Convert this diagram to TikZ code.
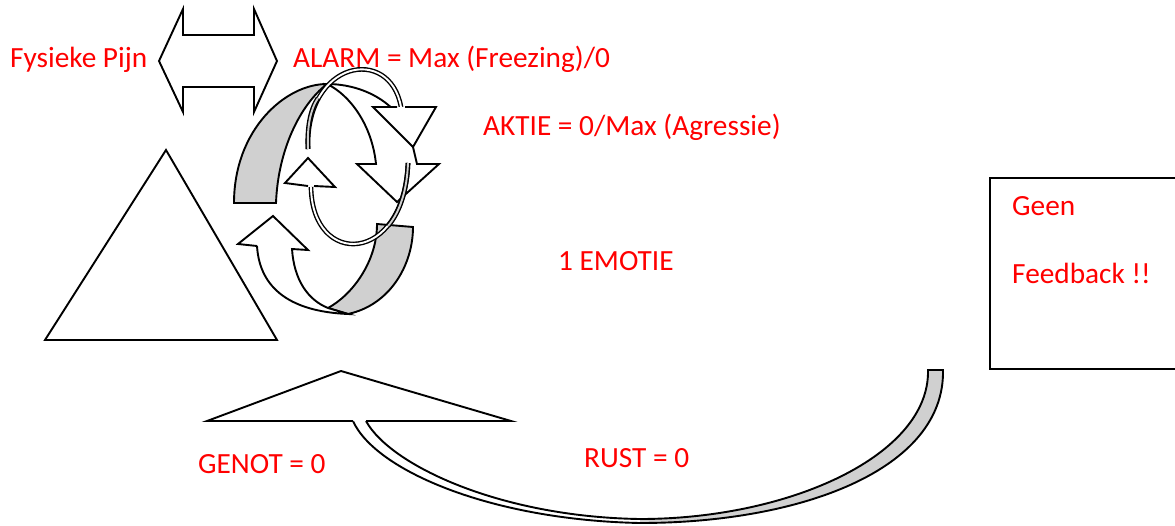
\documentclass[tikz,border=0pt]{standalone}
\usepackage{fontspec}
\setmainfont{Carlito}
\usepackage{tikz}
\definecolor{bandgray}{RGB}{208,208,208}

\begin{document}
\begin{tikzpicture}[x=1pt, y=-1pt]
  \tikzstyle{txt}=[text=red, anchor=base west, inner sep=0pt, font=\fontsize{29.3}{35}\selectfont]
  \tikzstyle{shp}=[draw=black, line width=1.9pt, fill=white]
  \tikzstyle{outl}=[draw=black, line width=1.9pt]
  \tikzstyle{ring}=[line width=1.4pt, double distance=1.9pt, double=white]
  \tikzstyle{ringgray}=[ring, double=bandgray]

  \useasboundingbox (0,0) rectangle (1175,525);

  \draw[shp] (166,150) -- (45,340) -- (277,340) -- cycle;
  \draw[shp] (159,61) -- (183,9) -- (183,35) -- (254,35) -- (254,9) -- (277,61)
    -- (254,112) -- (254,87) -- (183,87) -- (183,112) -- cycle;

  % lower wide band
  \draw[shp, fill=bandgray] (328,308) .. controls (352,295) and (377,262) .. (377,224)
    -- (413,227) .. controls (413,265) and (390,305) .. (348,314) -- cycle;
  \draw[shp] (257,246) -- (238,244) -- (273,216) -- (308,250) -- (292,249)
    .. controls (294,280) and (308,300) .. (328,308) -- (348,314)
    .. controls (300,312) and (260,295) .. (257,246);

  % upper wide band
  \draw[shp, fill=bandgray] (234,203) .. controls (234,130) and (285,84) .. (327,84)
    .. controls (300,105) and (278,150) .. (276,203) -- cycle;
  \draw[shp] (327,84) .. controls (365,84) and (405,105) .. (413,147) -- (417,164)
    -- (439,164) -- (397,202) -- (357,164) -- (376,164)
    .. controls (372,125) and (350,95) .. (327,84) -- cycle;

  % thin ring
  \draw[ring] (308,149) .. controls (305,60) and (390,45) .. (401,107);
  \draw[ringgray] (308,149) .. controls (307,128) and (310,110) .. (318,98);
  \draw[shp] (397,107) -- (373,107) -- (413,147) -- (436,107) -- (405,107);
  \draw[ring] (408,163) .. controls (404,265) and (312,268) .. (311,187);
  \draw[ringgray] (408,163) .. controls (407,190) and (400,212) .. (388,226);
  \draw[shp] (308,186) -- (285,183) -- (308,158) -- (335,187) -- (314,186);

  % bottom arrow
  \fill[white] (353,421) .. controls (375,470) and (490,520) .. (640,523)
    -- (640,519) .. controls (500,517) and (390,465) .. (366,421) -- cycle;
  \fill[bandgray] (640,523) .. controls (800,523) and (945,470) .. (943,370)
    -- (928,370) .. controls (930,455) and (790,519) .. (640,519) -- cycle;
  \draw[outl] (353,421) .. controls (375,470) and (490,520) .. (640,523)
    .. controls (800,523) and (945,470) .. (943,370) -- (928,370)
    .. controls (930,455) and (790,519) .. (640,519)
    .. controls (500,517) and (390,465) .. (366,421);
  \draw[shp] (353,421) -- (207,421) -- (341,371) -- (511,421) -- (366,421);

  \draw[line width=2.6pt] (990,178) rectangle (1190,369);

  \node[txt] (pijn) at (10,67) {Fysieke Pijn};
  \node[txt] (alarm) at (293,67) {ALARM = Max (Freezing)/0};
  \node[txt] (aktie) at (483,135) {AKTIE = 0/Max (Agressie)};
  \node[txt] (emotie) at (558,270) {1 EMOTIE};
  \node[txt] (genot) at (198,473) {GENOT = 0};
  \node[txt] (rust) at (584,467) {RUST = 0};
  \node[txt] (geen) at (1012,215) {Geen};
  \node[txt] (feedback) at (1012,283) {Feedback !!};
\end{tikzpicture}
\end{document}
